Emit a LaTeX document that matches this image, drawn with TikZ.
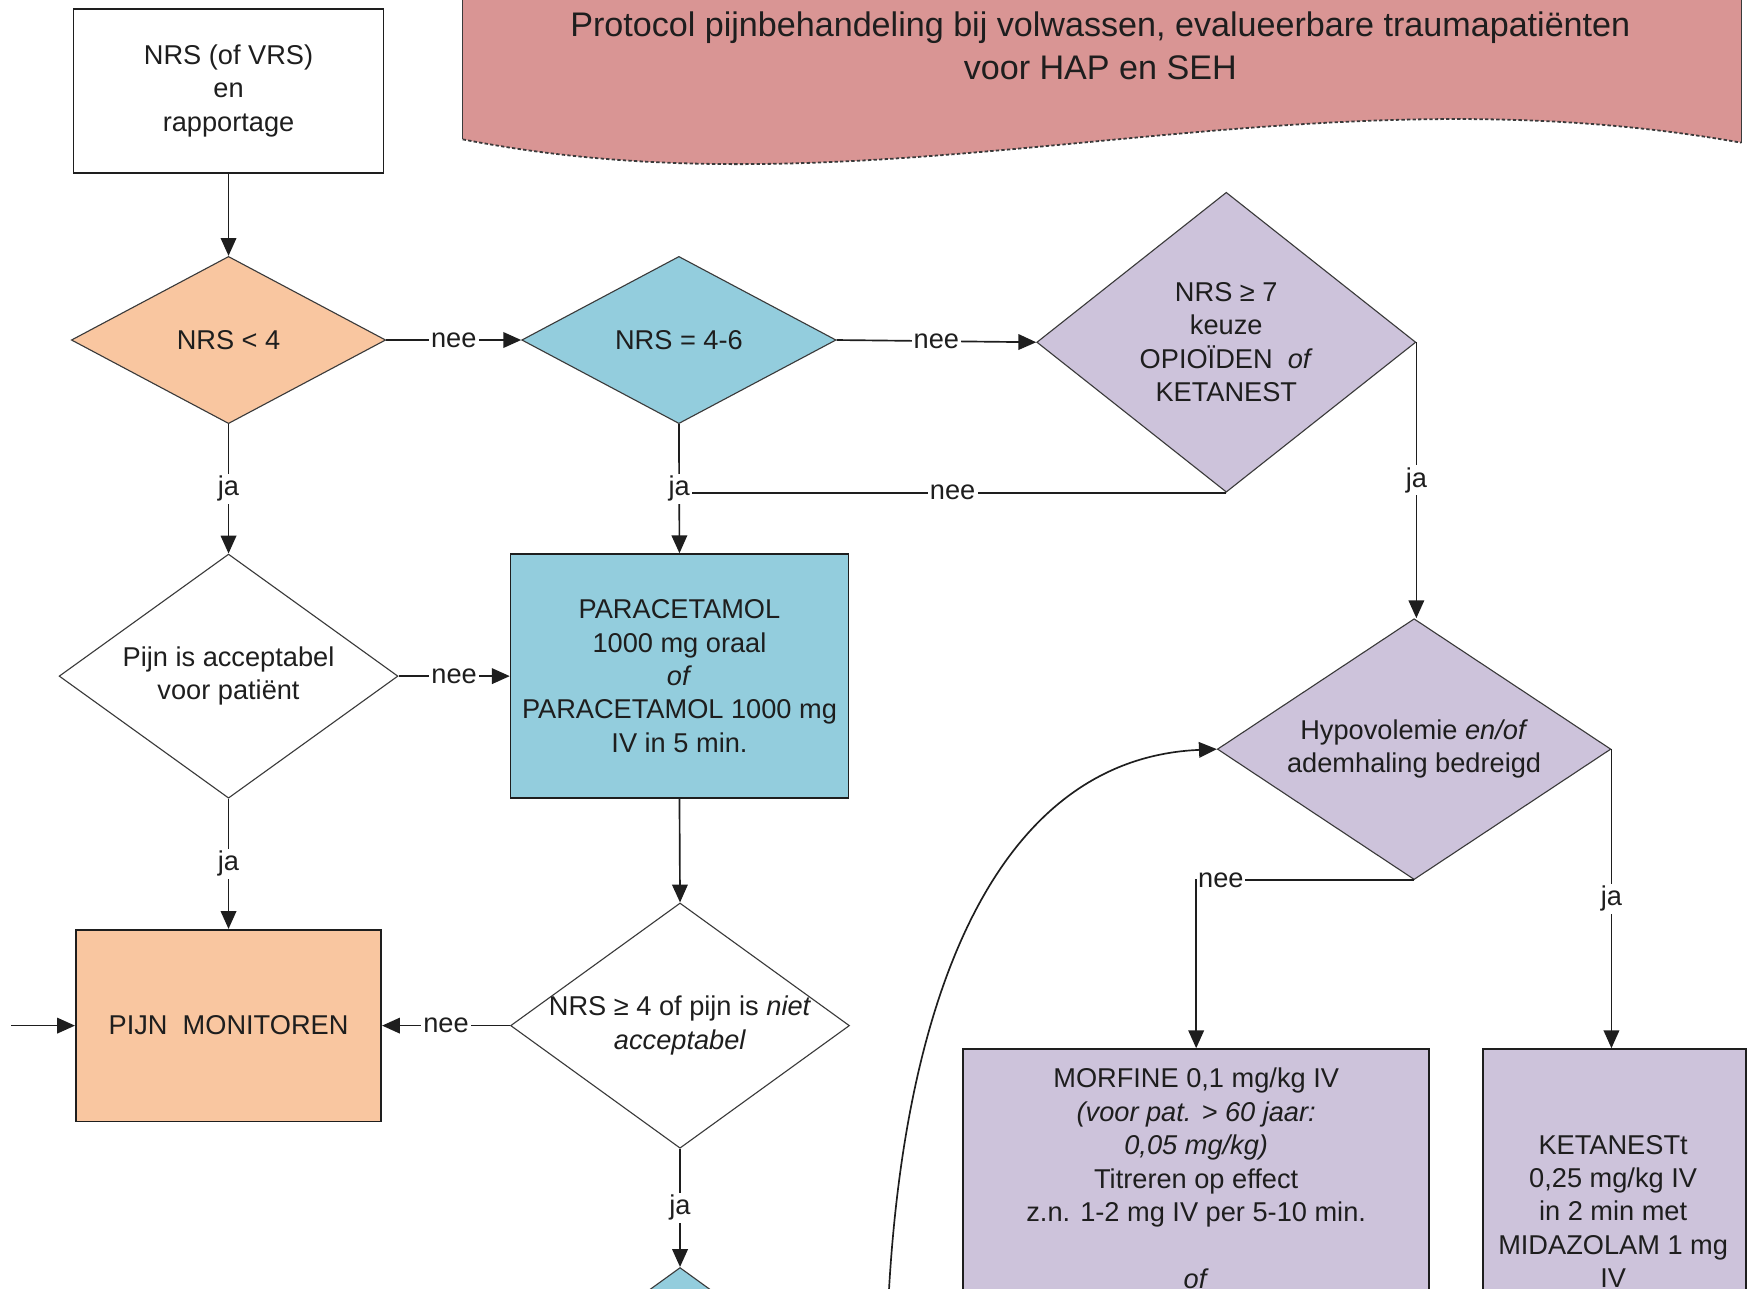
\documentclass[tikz,border=0pt]{standalone}
\usepackage{fontspec}
\setmainfont{Liberation Sans}
\usetikzlibrary{shapes.geometric,arrows.meta}
\definecolor{orng}{HTML}{F9C6A0}
\definecolor{blu}{HTML}{93CDDD}
\definecolor{lav}{HTML}{CDC3DB}
\definecolor{pnk}{HTML}{D99594}
\definecolor{ink}{HTML}{1E1E1E}
\definecolor{edge}{HTML}{3A3A3A}
\newcommand\bodyfnt{\fontsize{24.4}{30}\selectfont}
\newcommand\titlefnt{\fontsize{30.6}{38}\selectfont}
\begin{document}
\begin{tikzpicture}[x=1pt,y=-1pt,
  rbox/.style={draw=ink, line width=1.5pt, inner sep=0pt, rectangle},
  dia/.style={draw=edge, line width=1pt, inner sep=0pt, diamond},
  txt/.style={align=center, font=\bodyfnt, text=ink, inner sep=0pt},
  arr/.style={draw=ink, line width=1.5pt, -{Triangle[length=16pt,width=14pt]}},
  conn/.style={draw=ink, line width=1.5pt},
  lbl/.style={fill=white, inner sep=2pt, font=\bodyfnt, text=ink}]
\useasboundingbox (0,0) rectangle (1568,1156);
\clip (0,0) rectangle (1568,1156);
\fill[white] (0,0) rectangle (1568,1156);

% title banner
\fill[pnk] (415,-5) -- (415,125) .. controls (800,200) and (1150,55) .. (1562,128) -- (1562,-5) -- cycle;
\draw[edge, line width=0.8pt] (415,-5) -- (415,125);
\draw[edge, line width=1.6pt, densely dashed] (415,125) .. controls (800,200) and (1150,55) .. (1562,128);
\draw[edge, line width=0.8pt] (1562,128) -- (1562,-5);
\node[align=center, font=\titlefnt, text=ink, inner sep=0pt] (title) at (987,41)
  {Protocol pijnbehandeling bij volwassen, evalueerbare traumapatiënten\\voor HAP en SEH};

% boxes
\node[rbox, fill=white, minimum width=278pt, minimum height=147pt] (top) at (205,81.5) {};
\node[txt] at (top) {NRS (of VRS)\\en\\rapportage};

\node[rbox, fill=blu, minimum width=303pt, minimum height=219pt] (para) at (609.5,606.5) {};
\node[txt] at (para) {PARACETAMOL\\1000 mg oraal\\\textit{of}\\PARACETAMOL 1000 mg\\IV in 5 min.};

\node[rbox, fill=orng, minimum width=274pt, minimum height=172pt] (pijn) at (205,920) {};
\node[txt] at (pijn) {PIJN\ \ MONITOREN};

\node[rbox, fill=lav, minimum width=418pt, minimum height=299pt] (morf) at (1073,1090.5) {};
\node[txt, anchor=north] at (1073,958) {MORFINE 0,1 mg/kg IV\\\textit{(voor pat. > 60 jaar:}\\\textit{0,05 mg/kg)}\\Titreren op effect\\z.n. 1-2 mg IV per 5-10 min.\\[30pt]\textit{of}};

\node[rbox, fill=lav, minimum width=236pt, minimum height=299pt] (keta) at (1448,1090.5) {};
\node[txt, anchor=north] at (1447,1018) {KETANESTt\\0,25 mg/kg IV\\in 2 min met\\MIDAZOLAM 1 mg\\IV};

% diamonds
\node[dia, fill=orng, minimum width=282pt, minimum height=150pt] (d1) at (205,305) {};
\node[txt] at (d1) {NRS < 4};

\node[dia, fill=blu, minimum width=282pt, minimum height=150pt] (d2) at (609,305) {};
\node[txt] at (d2) {NRS = 4-6};

\node[dia, fill=lav, minimum width=340pt, minimum height=269pt] (d3) at (1100,307) {};
\node[txt] at (d3) {NRS ≥ 7\\keuze\\OPIOÏDEN\ \ \textit{of}\\KETANEST};

\node[dia, fill=white, minimum width=304pt, minimum height=219pt] (d4) at (205,606.5) {};
\node[txt] at (d4) {Pijn is acceptabel\\voor patiënt};

\node[dia, fill=lav, minimum width=353pt, minimum height=234pt] (d5) at (1268.5,672) {};
\node[txt] at (d5) {Hypovolemie \textit{en/of}\\ademhaling bedreigd};

\node[dia, fill=white, minimum width=304pt, minimum height=220pt] (d6) at (610,920) {};
\node[txt] at (d6) {NRS ≥ 4 of pijn is \textit{niet}\\\textit{acceptabel}};

\node[dia, fill=blu, minimum width=304pt, minimum height=220pt] (d7) at (610,1247) {};

% connectors
\draw[arr] (top.south) -- (d1.north);
\draw[arr] (d1.east) -- node[lbl]{nee} (d2.west);
\draw[arr] (d2.east) -- node[lbl]{nee} (d3.west);
\draw[conn] (d3.south) -- node[lbl]{nee} (d2.south |- d3.south);
\draw[arr] (d2.south) -- node[lbl]{ja} (para.north);
\draw[arr] (d3.east) -- node[lbl]{ja} (d3.east |- d5.north);
\draw[arr] (d1.south) -- node[lbl]{ja} (d4.north);
\draw[arr] (d4.east) -- node[lbl]{nee} (para.west);
\draw[arr] (d4.south) -- node[lbl]{ja} (pijn.north);
\coordinate (inlet) at (10,920);
\draw[arr] (inlet) -- (pijn.west);
\draw[arr] (para.south) -- (d6.north);
\draw[arr] (d6.west) -- node[lbl]{nee} (pijn.east);
\draw[arr] (d6.south) -- node[lbl]{ja} (d7.north);
\draw[arr] (d5.south) -| node[lbl, pos=0.5, anchor=west, inner sep=1pt]{nee} (morf.north);
\draw[arr] (d5.east) -- node[lbl]{ja} (d5.east |- keta.north);
\coordinate (loop) at (797,1165);
\draw[arr] (loop) .. controls (812,880) and (900,680) .. (d5.west);
\end{tikzpicture}
\end{document}
